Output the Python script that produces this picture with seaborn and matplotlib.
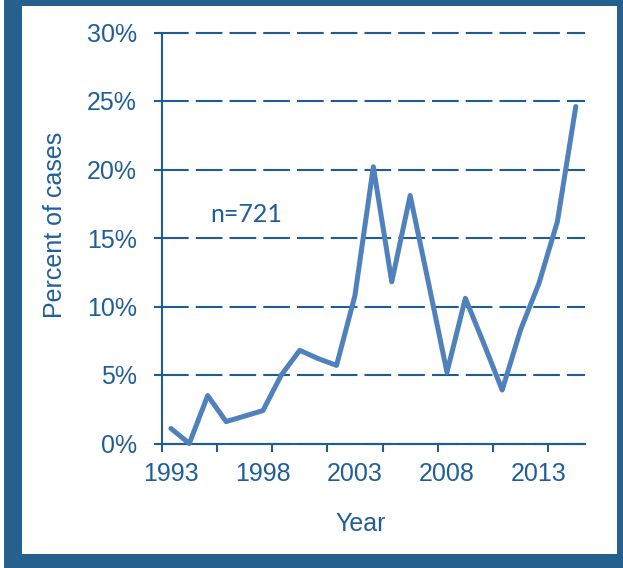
import matplotlib
matplotlib.use("Agg")
import matplotlib.pyplot as plt
from matplotlib.patches import Rectangle
import seaborn as sns
import pandas as pd

years = list(range(1993, 2016))
percent = [1.1, 0.0, 3.5, 1.6, 2.0, 2.4, 5.0, 6.8, 6.2, 5.7, 10.8, 20.2,
           11.8, 18.1, 11.7, 5.2, 10.6, 7.3, 3.9, 8.3, 11.7, 16.2, 24.6]
y_ticks = [0, 5, 10, 15, 20, 25, 30]
y_tick_labels = ["0%", "5%", "10%", "15%", "20%", "25%", "30%"]
x_label_years = [1993, 1998, 2003, 2008, 2013]
annotation = "n=721"

sns.set_style("white")
plt.rcParams['font.family'] = ['Liberation Sans', 'DejaVu Sans']

TEXT = "#1F5E99"
GRID = "#1F5C96"
LINE = "#4F81BD"
FRAME = "#26608F"

W, H = 623, 568
fig = plt.figure(figsize=(W / 100, H / 100), dpi=100)
fig.patch.set_facecolor("white")
fig.patches.append(Rectangle((4 / W, 0), (W - 4) / W, 1, transform=fig.transFigure,
                             facecolor=FRAME, edgecolor="none", zorder=-3))
fig.patches.append(Rectangle((22 / W, (H - 554) / H), (617 - 22) / W, (554 - 6) / H,
                             transform=fig.transFigure, facecolor="white",
                             edgecolor="none", zorder=-2))

left, right, top, bottom = 161.7, 585, 32.5, 443.5
ax = fig.add_axes([left / W, (H - bottom) / H, (right - left) / W, (bottom - top) / H])
ax.set_facecolor("none")

df = pd.DataFrame({"Year": years, "Percent": percent})
sns.lineplot(data=df, x="Year", y="Percent", ax=ax, color=LINE, linewidth=3.6,
             clip_on=False, zorder=5)

ax.set_xlim(1992.5, 2015.5)
ax.set_ylim(0, 30)

ax.set_yticks(y_ticks)
ax.set_yticklabels(y_tick_labels)
ax.set_xticks([1992.5 + 3 * k for k in range(8)])
ax.set_xticklabels([])
ax.set_xticks(x_label_years, minor=True)
ax.set_xticklabels([str(y) for y in x_label_years], minor=True)

FS = 18
ax.tick_params(axis="y", which="major", direction="out", length=6, width=1.5,
               color=GRID, labelcolor=TEXT, labelsize=FS, pad=12, left=True)
ax.tick_params(axis="x", which="major", direction="out", length=6, width=1.5,
               color=GRID, bottom=True)
ax.tick_params(axis="x", which="minor", length=0, labelcolor=TEXT, labelsize=FS,
               pad=13, bottom=True)

ax.yaxis.grid(True, color=GRID, linewidth=1.5, linestyle=(0, (12.8, 3.4)))
ax.xaxis.grid(False)
for gl in ax.yaxis.get_gridlines():
    gl.set_clip_on(False)

for s in ["top", "right"]:
    ax.spines[s].set_visible(False)
for s in ["left", "bottom"]:
    ax.spines[s].set_color(GRID)
    ax.spines[s].set_linewidth(1.5)

ax.set_xlabel("Year", color=TEXT, fontsize=FS)
ax.set_ylabel("Percent of cases", color=TEXT, fontsize=FS)
ax.xaxis.set_label_coords(0.471, -0.1667)
ax.yaxis.set_label_coords(-0.224, 0.532)

ax.text(1995.15, 16.7, annotation, color=TEXT, fontsize=18, family=["Lato", "DejaVu Sans"],
        ha="left", va="center")

fig.savefig("out.png", dpi=100)
